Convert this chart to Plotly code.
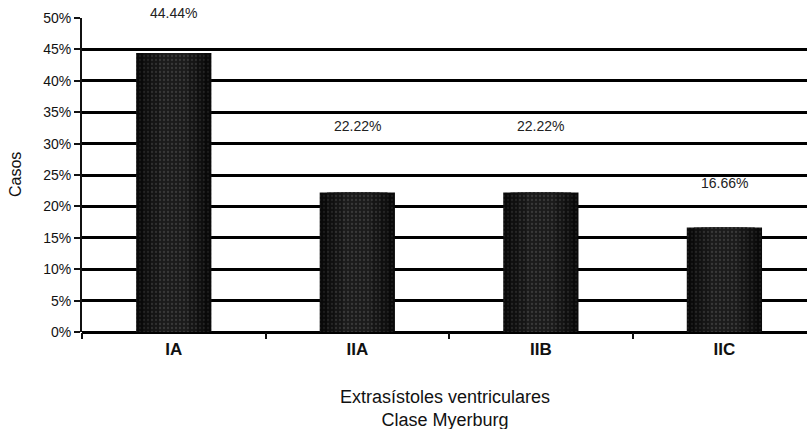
import plotly.graph_objects as go

categories = ["IA", "IIA", "IIB", "IIC"]
values = [44.44, 22.22, 22.22, 16.66]
value_labels = ["44.44%", "22.22%", "22.22%", "16.66%"]

font = "Liberation Sans, Arial, sans-serif"
ink = "#111111"

fig = go.Figure()
# layered bars of decreasing width give a dark rim and a slightly lighter, grainy core
layers = [
    (0.41, "#090909", "#2c2c2c"),
    (0.33, "#0f0f0f", "#3a3a3a"),
    (0.25, "#151515", "#474747"),
    (0.16, "#1b1b1b", "#555555"),
]
for w, bg, fg in layers:
    fig.add_trace(go.Bar(
        x=categories, y=values, width=w,
        marker=dict(
            color=bg, line=dict(width=0),
            pattern=dict(shape=".", fgcolor=fg, bgcolor=bg,
                         size=4, solidity=0.25, fillmode="overlay"),
        ),
        hoverinfo="skip",
    ))

# value labels above each bar (pixel offsets above the bar top)
label_shift = [40, 66, 66, 44]
for cat, v, txt, s in zip(categories, values, value_labels, label_shift):
    fig.add_annotation(x=cat, y=v, text=txt, showarrow=False,
                       yshift=s, font=dict(family=font, size=14, color="#222"))

# axis titles
fig.add_annotation(x=0.5, y=0, xref="paper", yref="paper", yanchor="top",
                   yshift=-53, showarrow=False, align="center",
                   text="Extrasístoles ventriculares<br>Clase Myerburg",
                   font=dict(family=font, size=18, color=ink))
fig.add_annotation(x=0, y=0.5, xref="paper", yref="paper", xanchor="center",
                   xshift=-67, showarrow=False, textangle=-90,
                   text="Casos", font=dict(family=font, size=16, color=ink))

fig.update_layout(
    width=807, height=429,
    margin=dict(l=82, r=0, t=18, b=97),
    paper_bgcolor="white", plot_bgcolor="white",
    showlegend=False, barmode="overlay",
    font=dict(family=font, color=ink),
)
fig.update_xaxes(
    range=[-0.5, 3.45],
    tickson="boundaries", ticks="outside", ticklen=6, tickwidth=1.5, tickcolor=ink,
    ticklabelstandoff=5,
    showgrid=False, showline=False, zeroline=False,
    tickfont=dict(family=font, size=17, color=ink, weight="bold"),
)
fig.update_yaxes(
    range=[0, 50], dtick=5, ticksuffix="%",
    ticks="outside", ticklen=6, tickwidth=2, tickcolor=ink,
    showline=True, linewidth=2, linecolor=ink,
    showgrid=True, gridcolor="#000000", gridwidth=2.5,
    zeroline=True, zerolinecolor="#000000", zerolinewidth=2.5,
    tickfont=dict(family=font, size=14, color=ink),
)

fig.write_html("out.html")
